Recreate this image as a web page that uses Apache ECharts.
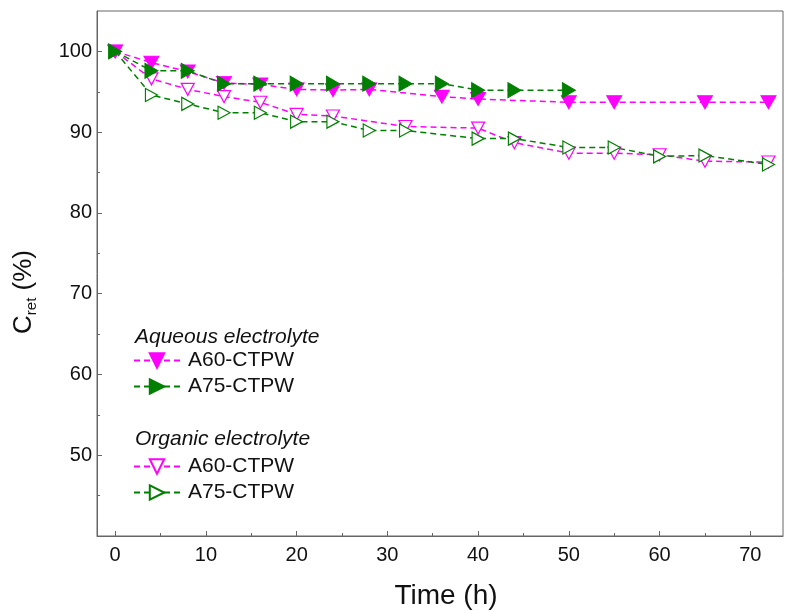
<!DOCTYPE html>
<html><head><meta charset="utf-8">
<script src="https://cdn.jsdelivr.net/npm/echarts@6/dist/echarts.min.js"></script>
<style>html,body{margin:0;padding:0;background:#fff}#c{width:785px;height:611px}</style>
</head><body><div id="c"></div>
<script>
// Data
const aqA60Time = [0,4,8,12,16,20,24,28,36,40,50,55,65,72];
const aqA60Val  = [100,98.6,97.5,96.1,95.9,95.3,95.2,95.3,94.4,94.1,93.7,93.7,93.7,93.7];
const aqA75Time = [0,4,8,12,16,20,24,28,32,36,40,44,50];
const aqA75Val  = [100,97.6,97.6,96.0,96.0,96.0,96.0,96.0,96.0,96.0,95.2,95.2,95.2];
const orgA60Time = [0,4,8,12,16,20,24,32,40,44,50,55,60,65,72];
const orgA60Val  = [100,96.6,95.3,94.4,93.7,92.2,92.0,90.7,90.5,88.7,87.4,87.4,87.2,86.4,86.3];
const orgA75Time = [0,4,8,12,16,20,24,28,32,40,44,50,55,60,65,72];
const orgA75Val  = [100,94.6,93.5,92.4,92.4,91.3,91.3,90.2,90.2,89.2,89.2,88.1,88.1,87.0,87.1,86.0];
const xMajorTicks = [0,10,20,30,40,50,60,70];
const xMinorTicks = [5,15,25,35,45,55,65];
const yMajorTicks = [50,60,70,80,90,100];
const yMinorTicks = [45,55,65,75,85,95];
const seriesNames = ['A60-CTPW','A75-CTPW'];
const groupTitles = ['Aqueous electrolyte','Organic electrolyte'];
const xTitle = 'Time (h)';

const zip = (t, v) => t.map((x, i) => [x, v[i]]);
const MAG = '#ff00ff', GRN = '#008000';
const FONT = 'Liberation Sans, Arial, sans-serif';
const dash = [6, 4];

const chart = echarts.init(document.getElementById('c'), null, {renderer: 'canvas'});
const axisCol = '#666';
const gridL = 97, gridT = 11, gridW = 686, gridH = 525;

function xAx(ticks, len, labels) {
  return {
    type: 'value', min: -2, max: 73.6, position: 'bottom',
    axisLine: {show: labels, onZero: false, lineStyle: {color: axisCol, width: 1}},
    axisTick: {show: true, inside: true, length: len, customValues: ticks, lineStyle: {color: axisCol}},
    axisLabel: {show: labels, customValues: ticks, margin: 9, color: '#111', fontSize: 20, fontFamily: FONT},
    splitLine: {show: false}
  };
}
function yAx(ticks, len, labels) {
  return {
    type: 'value', min: 40, max: 105, position: 'left',
    axisLine: {show: labels, onZero: false, lineStyle: {color: axisCol, width: 1}},
    axisTick: {show: true, inside: true, length: len, customValues: ticks, lineStyle: {color: axisCol}},
    axisLabel: {show: labels, customValues: ticks, margin: 5, color: '#111', fontSize: 20, fontFamily: FONT},
    splitLine: {show: false}
  };
}

const mk = (name, data, color, rot, filled, size) => ({
  name, type: 'line', data, xAxisIndex: 0, yAxisIndex: 0,
  symbol: 'triangle', symbolRotate: rot, symbolSize: size,
  showSymbol: true,
  lineStyle: {color, type: dash, width: 1.5},
  itemStyle: filled ? {color, borderColor: color, borderWidth: 1} : {color: '#fff', borderColor: color, borderWidth: 1.2},
  emphasis: {disabled: true},
  animation: false
});

const series = [
  mk(seriesNames[0] + ' ', zip(orgA60Time, orgA60Val), MAG, 180, false, [13, 12]),
  mk(seriesNames[1] + ' ', zip(orgA75Time, orgA75Val), GRN, -90, false, [13, 12]),
  mk(seriesNames[0], zip(aqA60Time, aqA60Val), MAG, 180, true, [15, 13]),
  mk(seriesNames[1], zip(aqA75Time, aqA75Val), GRN, -90, true, [15, 13])
];

const legendBase = {
  orient: 'vertical', left: 133, itemWidth: 46, itemHeight: 18, itemGap: 5, padding: 0,
  selectedMode: false,
  textStyle: {fontSize: 21, color: '#111', fontFamily: FONT, padding: [0, 0, 0, 3]},
  formatter: n => n.trim()
};

chart.setOption({
  animation: false,
  backgroundColor: '#fff',
  grid: {left: gridL, top: gridT, width: gridW, height: gridH, show: true, borderColor: axisCol, borderWidth: 1, containLabel: false},
  xAxis: [xAx(xMajorTicks, 5, true), xAx(xMinorTicks, 3, false)],
  yAxis: [yAx(yMajorTicks, 5, true), yAx(yMinorTicks, 3, false)],
  legend: [
    Object.assign({}, legendBase, {top: 350, data: [seriesNames[0], seriesNames[1]]}),
    Object.assign({}, legendBase, {top: 456, data: [seriesNames[0] + ' ', seriesNames[1] + ' ']})
  ],
  series,
  graphic: [
    {type: 'text', left: 135, top: 327, style: {text: groupTitles[0], fontSize: 21, fontStyle: 'italic', fontFamily: FONT, fill: '#111'}},
    {type: 'text', left: 135, top: 429, style: {text: groupTitles[1], fontSize: 21, fontStyle: 'italic', fontFamily: FONT, fill: '#111'}},
    {type: 'text', x: 446, y: 596, style: {text: xTitle, fontSize: 28, fontFamily: FONT, fill: '#111', align: 'center', verticalAlign: 'middle'}},
    {type: 'text', x: 24, y: 292, rotation: Math.PI / 2, style: {
      text: '{a|C}{b|ret}{a| (%)}', align: 'center', verticalAlign: 'middle',
      rich: {
        a: {fontSize: 26, fontFamily: FONT, fill: '#111', lineHeight: 30},
        b: {fontSize: 15, fontFamily: FONT, fill: '#111', verticalAlign: 'bottom', lineHeight: 22, padding: [12, 0, 0, 0]}
      }
    }}
  ]
});
</script></body></html>
